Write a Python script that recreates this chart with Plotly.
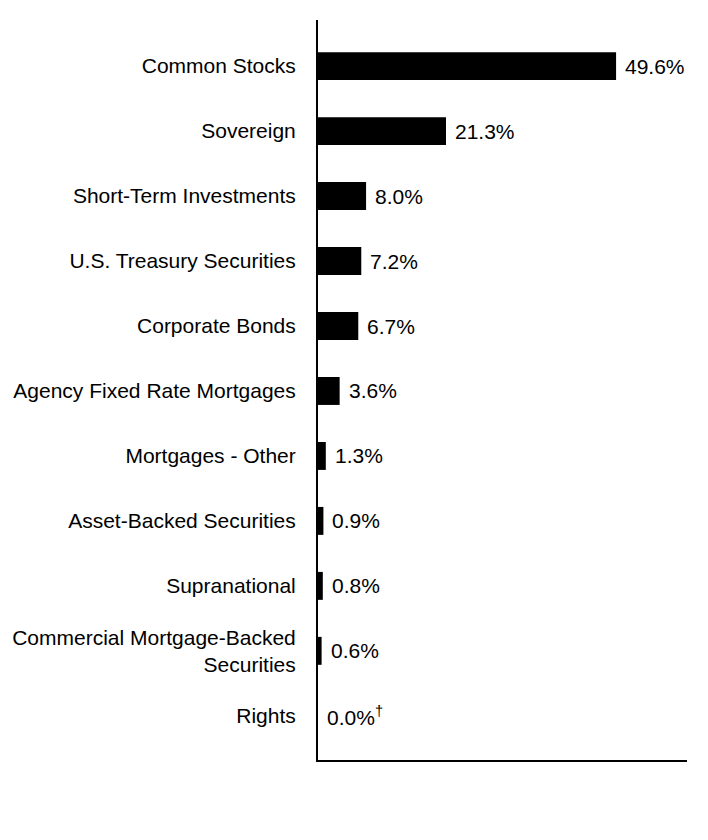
import plotly.graph_objects as go

categories = [
    "Common Stocks",
    "Sovereign",
    "Short-Term Investments",
    "U.S. Treasury Securities",
    "Corporate Bonds",
    "Agency Fixed Rate Mortgages",
    "Mortgages - Other",
    "Asset-Backed Securities",
    "Supranational",
    "Commercial Mortgage-Backed<br>Securities",
    "Rights",
]
values = [49.6, 21.3, 8.0, 7.2, 6.7, 3.6, 1.3, 0.9, 0.8, 0.6, 0.0]
labels = ["49.6%", "21.3%", "8.0%", "7.2%", "6.7%", "3.6%", "1.3%", "0.9%",
          "0.8%", "0.6%", "0.0%<sup>†</sup>"]

FONT = "Liberation Sans, Arial, sans-serif"

fig = go.Figure()
fig.add_trace(go.Bar(
    x=values,
    y=categories,
    orientation="h",
    width=0.43,
    marker=dict(color="#000000", line=dict(width=0)),
    hoverinfo="skip",
))

for v, c, t in zip(values, categories, labels):
    fig.add_annotation(
        x=v, y=c, text=t, showarrow=False,
        xanchor="left", yanchor="middle", xshift=7,
        font=dict(family=FONT, size=21, color="#000000"),
    )

fig.update_layout(
    width=692, height=824,
    margin=dict(l=310, r=13, t=12, b=72, autoexpand=False),
    paper_bgcolor="white",
    plot_bgcolor="white",
    showlegend=False,
    font=dict(family=FONT, size=21, color="#000000"),
    xaxis=dict(
        range=[0, 61.4],
        showgrid=False, zeroline=False,
        showticklabels=False, ticks="",
        showline=True, linecolor="#000000", linewidth=2,
        fixedrange=True, automargin=False,
    ),
    yaxis=dict(
        type="category",
        range=[10.68, -0.71],
        showgrid=False, zeroline=False,
        ticks="", ticklabelstandoff=16,
        showline=True, linecolor="#000000", linewidth=2,
        tickfont=dict(family=FONT, size=21, color="#000000"),
        fixedrange=True, automargin=False,
    ),
)

fig.write_html("out.html")
